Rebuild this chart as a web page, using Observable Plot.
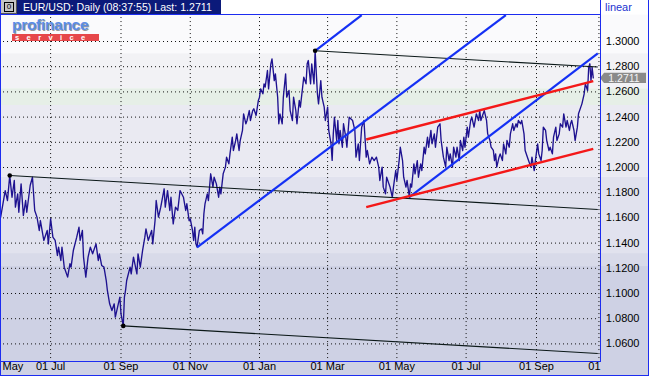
<!DOCTYPE html>
<html><head><meta charset="utf-8">
<script src="https://cdn.jsdelivr.net/npm/d3@7"></script>
<script src="https://cdn.jsdelivr.net/npm/@observablehq/plot@0.6"></script>
<style>
html,body{margin:0;padding:0;background:#fff;}
#wrap{position:relative;width:649px;height:376px;overflow:hidden;font-family:"Liberation Sans",Arial,sans-serif;}
#wrap svg{position:absolute;left:0;top:0;}
.abs{position:absolute;}
.bl{position:absolute;background:#1c2cf0;}
</style></head><body>
<div id="wrap"></div>
<script>
// ---- price series (EUR/USD daily) ----
const dates2003 = [
 "05-18","05-22","05-24","05-26","05-28","05-30","05-31",
 "06-02","06-03","06-05","06-07","06-09","06-10","06-13","06-15","06-17","06-19","06-21","06-22","06-25","06-28","06-29",
 "07-01","07-03","07-05","07-07","07-08","07-10","07-11","07-13","07-16","07-18","07-19","07-21","07-24","07-26","07-27","07-29","07-30",
 "08-01","08-03","08-05","08-07","08-10","08-12","08-13","08-15","08-17","08-19","08-20","08-22","08-24","08-26","08-27","08-29","08-31",
 "09-01","09-03","09-04","09-05","09-06","09-09","09-10","09-12","09-15","09-16","09-18","09-20","09-22","09-23","09-25","09-28","09-29",
 "10-01","10-02","10-04","10-06","10-09","10-10","10-12","10-14","10-15","10-17","10-19","10-21","10-23","10-26","10-28","10-29","10-31",
 "11-01","11-03","11-04","11-05","11-06","11-07","11-09","11-11","11-12","11-13","11-14","11-16","11-17","11-18","11-19","11-21","11-22","11-24","11-26","11-27","11-28","11-30",
 "12-02","12-03","12-05","12-06","12-08","12-09","12-11","12-12","12-14","12-15","12-17","12-18","12-20","12-21","12-23","12-24","12-26","12-27","12-29","12-31"];
const prices2003 = [
 1.1606,1.1817,1.1738,1.1936,1.1764,1.1897,1.1685,
 1.1791,1.1645,1.1870,1.1619,1.1738,1.1645,1.1857,1.1923,1.1659,1.1606,1.1500,1.1579,1.1421,1.1500,1.1394,
 1.1593,1.1447,1.1421,1.1302,1.1368,1.1262,1.1368,1.1209,1.1130,1.1236,1.1209,1.1341,1.1447,1.1526,1.1421,1.1500,1.1289,
 1.1130,1.1289,1.1368,1.1315,1.1394,1.1262,1.1315,1.1222,1.1209,1.1103,1.1024,1.0918,1.0865,1.0918,1.0812,1.0892,1.0971,
 1.0839,1.0743,1.0971,1.1024,1.1103,1.1209,1.1156,1.1289,1.1156,1.1315,1.1209,1.1341,1.1447,1.1513,1.1421,1.1500,1.1394,
 1.1579,1.1738,1.1606,1.1685,1.1831,1.1685,1.1817,1.1659,1.1764,1.1553,1.1685,1.1659,1.1817,1.1764,1.1659,1.1712,1.1579,
 1.1593,1.1500,1.1421,1.1526,1.1394,1.1368,1.1500,1.1513,1.1474,1.1632,1.1712,1.1791,1.1738,1.1844,1.1950,1.1844,1.1923,1.1870,1.1764,1.1844,1.1791,1.1950,
 1.2003,1.2082,1.2029,1.2108,1.2241,1.2135,1.2214,1.2267,1.2135,1.2214,1.2294,1.2426,1.2347,1.2373,1.2452,1.2373,1.2452,1.2466,1.2413,1.2532];
const dates2004 = [
 "01-01","01-02","01-04","01-05","01-06","01-08","01-09","01-11","01-12","01-14","01-15","01-17","01-18","01-19","01-21","01-22","01-24","01-25","01-27","01-28","01-30","01-31",
 "02-02","02-03","02-05","02-06","02-08","02-09","02-11","02-12","02-13","02-15","02-16","02-18","02-19","02-21","02-22","02-24","02-25","02-27","02-28",
 "03-01","03-02","03-04","03-05","03-06","03-07","03-09","03-10","03-11","03-12","03-14","03-15","03-17","03-18","03-20","03-23","03-25","03-26","03-28","03-29","03-31",
 "04-02","04-04","04-05","04-07","04-09","04-11","04-13","04-15","04-16","04-18","04-19","04-21","04-22","04-25","04-27","04-28","04-30",
 "05-01","05-03","05-04","05-06","05-07","05-09","05-10","05-12","05-13","05-14","05-16","05-17","05-19","05-20","05-22","05-23","05-25","05-26","05-28","05-29","05-31",
 "06-01","06-03","06-04","06-06","06-08","06-09","06-11","06-13","06-14","06-16","06-17","06-19","06-20","06-22","06-23","06-25","06-26","06-28","06-29","06-30",
 "07-02","07-03","07-05","07-06","07-08","07-10","07-12","07-13","07-14","07-16","07-17","07-19","07-20","07-22","07-23","07-25","07-26","07-27","07-28","07-30","07-31",
 "08-02","08-03","08-05","08-06","08-08","08-09","08-11","08-12","08-14","08-15","08-16","08-18","08-19","08-21","08-22","08-24","08-25","08-27","08-28","08-30","08-31",
 "09-02","09-03","09-05","09-06","09-07","09-09","09-10","09-12","09-13","09-15","09-16","09-18","09-19","09-21","09-22","09-24","09-25","09-27","09-28","09-30",
 "10-01","10-02","10-04","10-05","10-07","10-08","10-10","10-11","10-13","10-14","10-16","10-17","10-18","10-19","10-20","10-21"];
const prices2004 = [
 1.2558,1.2624,1.2585,1.2664,1.2638,1.2770,1.2624,1.2823,1.2862,1.2690,1.2743,1.2558,1.2347,1.2426,1.2347,1.2558,1.2743,1.2558,1.2611,1.2452,1.2373,1.2558,
 1.2452,1.2347,1.2532,1.2479,1.2638,1.2717,1.2664,1.2823,1.2849,1.2664,1.2823,1.2664,1.2926,1.2585,1.2505,1.2690,1.2558,1.2479,1.2373,
 1.2479,1.2294,1.2188,1.2056,1.2267,1.2399,1.2214,1.2373,1.2188,1.2294,1.2161,1.2347,1.2241,1.2161,1.2399,1.2373,1.2294,1.2082,1.2188,1.2055,1.2320,
 1.2373,1.2082,1.2135,1.2029,1.2082,1.2055,1.2082,1.2003,1.1897,1.2003,1.1844,1.1791,1.1923,1.1844,1.1764,1.1844,1.1976,
 1.1897,1.2055,1.2161,1.2055,1.1923,1.1844,1.1897,1.1764,1.1870,1.1844,1.2029,1.1950,1.2055,1.1923,1.2029,1.1976,1.2161,1.2108,1.2241,1.2161,1.2294,
 1.2188,1.2267,1.2161,1.2320,1.2347,1.2214,1.2082,1.2003,1.2161,1.2055,1.2108,1.2003,1.2161,1.2082,1.2161,1.2055,1.2214,1.2135,1.2241,1.2161,
 1.2320,1.2241,1.2373,1.2399,1.2320,1.2426,1.2373,1.2452,1.2373,1.2426,1.2452,1.2373,1.2267,1.2214,1.2161,1.2135,1.2055,1.2108,1.2003,1.2082,1.2108,
 1.2055,1.2188,1.2108,1.2214,1.2161,1.2267,1.2347,1.2294,1.2347,1.2320,1.2373,1.2347,1.2373,1.2267,1.2135,1.2082,1.2055,1.2003,1.2082,1.1976,1.2055,
 1.2188,1.2108,1.2055,1.2135,1.2320,1.2294,1.2214,1.2135,1.2161,1.2108,1.2241,1.2320,1.2214,1.2267,1.2347,1.2320,1.2426,1.2320,1.2373,1.2294,
 1.2347,1.2373,1.2294,1.2214,1.2320,1.2426,1.2479,1.2505,1.2585,1.2664,1.2611,1.2796,1.2823,1.2690,1.2796,1.2711];

// ---- drawn trend lines ----
const blackFrom = ["2003-05-26","2003-09-03","2004-02-19"];
const blackFromPrice = [1.1937, 1.0743, 1.2926];
const blackTo = ["2004-10-25","2004-10-25","2004-10-25"];
const blackToPrice = [1.1667, 1.0524, 1.2798];
const blueFrom = ["2003-11-07","2004-02-19","2004-05-12"];
const blueFromPrice = [1.1367, 1.2926, 1.1764];
const blueTo = ["2004-08-05","2004-03-31","2004-10-25"];
const blueToPrice = [1.3209, 1.3209, 1.2905];
const redFrom = ["2004-04-04","2004-04-04"];
const redFromPrice = [1.2222, 1.1685];
const redTo = ["2004-10-21","2004-10-21"];
const redToPrice = [1.2685, 1.2148];

// ---- axes / background ----
const yTicks = [1.06,1.08,1.10,1.12,1.14,1.16,1.18,1.20,1.22,1.24,1.26,1.28,1.30];
const xTickDates = ["2003-07-01","2003-09-01","2003-11-01","2004-01-01","2004-03-01","2004-05-01","2004-07-01","2004-09-01","2004-11-01"];
const xTickLabels = ["01 Jul","01 Sep","01 Nov","01 Jan","01 Mar","01 May","01 Jul","01 Sep","01 Nov"];
const leftLabel = "May";
const chartStart = "2003-05-17", chartEnd = "2004-10-26";
const priceTop = 1.3209, priceBottom = 1.0452;
const bandHigh = [1.3209, 1.2902, 1.2625, 1.2492, 1.1923, 1.1317, 1.1214];
const bandLow  = [1.2902, 1.2625, 1.2492, 1.1923, 1.1317, 1.1214, 1.0000];
const bandColors = ["#fafafc","#f2f2f5","#e6efe7","#eaeaf2","#e1e2ee","#d8dae9","#ced1e4"];

const series = [
  ...dates2003.map((d,i)=>({date:new Date("2003-"+d), price:prices2003[i]})),
  ...dates2004.map((d,i)=>({date:new Date("2004-"+d), price:prices2004[i]}))
];
const lastPrice = prices2004[prices2004.length-1];
const D = s => new Date(s);
const idx = n => d3.range(n);

const plot = Plot.plot({
  width: 649, height: 376,
  marginLeft: 0, marginRight: 0, marginTop: 0, marginBottom: 0,
  style: {background: "transparent", fontFamily: '"Liberation Sans", Arial, sans-serif', fontSize: "11px", overflow: "visible"},
  x: {type: "utc", domain: [D("2003-09-01"), D("2004-09-01")], range: [120.5, 536], axis: null},
  y: {domain: [1.06, 1.30], range: [343.4, 41], axis: null},
  marks: [
    Plot.rect(idx(bandHigh.length), {x1: () => D("2003-04-01"), x2: () => D("2005-02-01"),
      y1: i => bandLow[i], y2: i => bandHigh[i], fill: i => bandColors[i]}),
    Plot.ruleY(yTicks, {y: d => d, x1: () => D(chartStart), x2: () => D(chartEnd),
      stroke: "#111", strokeDasharray: "1,3"}),
    Plot.ruleX(xTickDates.filter(d => d < chartEnd).concat([chartEnd]), {x: d => D(d), y1: () => priceBottom, y2: () => priceTop,
      stroke: "#111", strokeDasharray: "1,3"}),
    Plot.line(series, {x: "date", y: "price", stroke: "#1e1290", strokeWidth: 1.35}),
    Plot.link(idx(3), {x1: i => D(blackFrom[i]), y1: i => blackFromPrice[i], x2: i => D(blackTo[i]), y2: i => blackToPrice[i],
      stroke: "#0b1818", strokeWidth: 1.1}),
    Plot.link(idx(3), {x1: i => D(blueFrom[i]), y1: i => blueFromPrice[i], x2: i => D(blueTo[i]), y2: i => blueToPrice[i],
      stroke: "#1430f4", strokeWidth: 2.2}),
    Plot.link(idx(2), {x1: i => D(redFrom[i]), y1: i => redFromPrice[i], x2: i => D(redTo[i]), y2: i => redToPrice[i],
      stroke: "#f41818", strokeWidth: 2.4}),
    Plot.dot(idx(3), {x: i => D(blackFrom[i]), y: i => blackFromPrice[i], r: 2.3, fill: "#000"}),
    Plot.text(yTicks, {y: d => d, frameAnchor: "right", dx: -10, textAnchor: "end", text: d => d.toFixed(4), fill: "#000", fontSize: 11}),
    Plot.text(xTickDates, {x: d => D(d), frameAnchor: "bottom", dy: -7, text: (d, i) => xTickLabels[i], fill: "#000", fontSize: 11}),
    Plot.text([leftLabel], {frameAnchor: "bottom-left", dx: 2, dy: -7, textAnchor: "start", text: d => d, fill: "#000", fontSize: 11})
  ]
});

const wrap = document.getElementById("wrap");
wrap.appendChild(plot);
const svg = d3.select(plot);

// last price tag
const ys = plot.scale("y");
const yf = ys && ys.apply ? v => ys.apply(v) : d3.scaleLinear(ys.domain, ys.range);
const ty = yf(lastPrice) + 0.5;
svg.append("path")
  .attr("d", `M600,${ty} L604,${ty-5.2} L646,${ty-5.2} L646,${ty+5.2} L604,${ty+5.2} Z`)
  .attr("fill", "#8a8a8a");
svg.append("text").attr("x", 624).attr("y", ty).attr("dy", "0.35em").attr("text-anchor", "middle")
  .attr("fill", "#f4f4f4").attr("font-size", 10.5).text(lastPrice.toFixed(4));

// chrome: title bar, logo, borders (the axis strip to the right of the plot hides the overflow of the last date label)
const html = `
<div class="abs" style="left:601px;top:362px;width:47px;height:13px;background:#ced1e4;"></div>
<div class="abs" style="left:0;top:0;width:649px;height:14px;background:#fff;"></div>
<div class="abs" style="left:1px;top:0;width:15px;height:13px;background:#c4c4c4;border-right:1px solid #555;border-bottom:1px solid #555;"></div>
<div class="abs" style="left:4px;top:2px;width:8px;height:8px;border:1px solid #000;font-size:8px;line-height:8px;text-align:center;color:#000;">0</div>
<div class="abs" style="left:17px;top:0;width:204px;height:14px;background:#0b1a7a;color:#fff;font-size:10.6px;line-height:14px;padding-left:6px;box-sizing:border-box;white-space:nowrap;">EUR/USD: Daily (08:37:55) Last: ${lastPrice.toFixed(4)}</div>
<div class="abs" style="left:605px;top:1px;font-size:11px;line-height:13px;color:#2233d0;">linear</div>
<div class="abs" style="left:12px;top:16px;font-size:15.5px;font-weight:bold;line-height:18px;color:#5a8ce6;letter-spacing:-0.3px;text-shadow:1px 1px 0 #9a9a9a;">profinance</div>
<div class="abs" style="left:12px;top:34px;width:87px;height:7px;background:#e6474a;color:#fff;font-size:7.5px;font-weight:bold;line-height:7px;letter-spacing:7.4px;padding-left:3px;box-sizing:border-box;overflow:hidden;">service</div>
<div class="bl" style="left:0;top:14px;width:601px;height:1px;"></div>
<div class="bl" style="left:600px;top:0;width:1px;height:362px;"></div>
<div class="bl" style="left:0;top:361px;width:601px;height:1px;"></div>
<div class="bl" style="left:0;top:0;width:1px;height:376px;"></div>
<div class="bl" style="left:648px;top:0;width:1px;height:376px;"></div>
<div class="bl" style="left:0;top:375px;width:649px;height:1px;"></div>`;
wrap.insertAdjacentHTML("beforeend", html);
</script>
</body></html>
